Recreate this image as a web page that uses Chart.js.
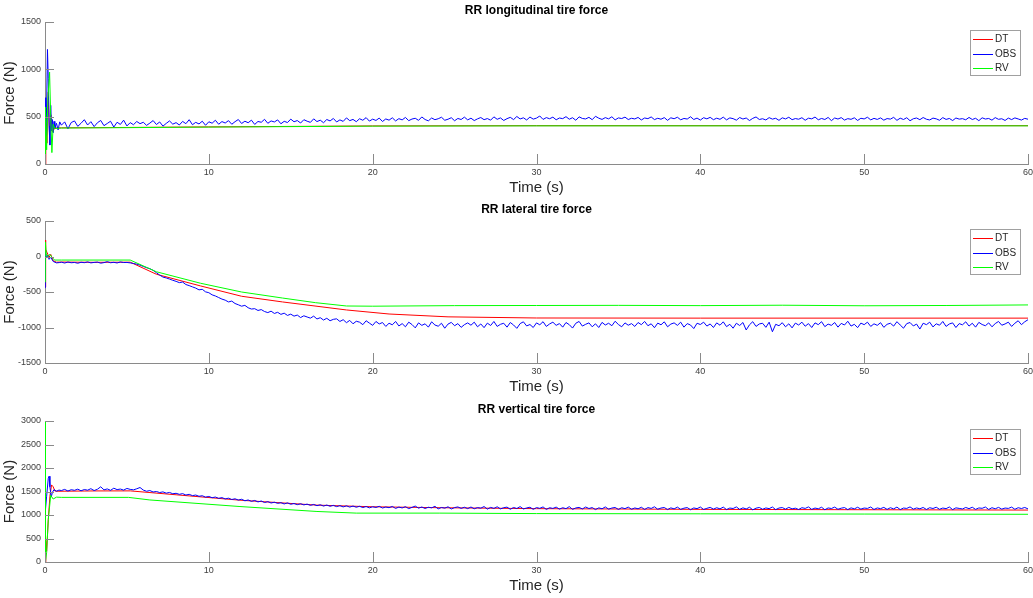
<!DOCTYPE html>
<html>
<head>
<meta charset="utf-8">
<title>RR tire forces</title>
<script src="https://cdn.jsdelivr.net/npm/chart.js@4.4.1/dist/chart.umd.min.js"></script>
<style>
  body { margin: 0; background: #fff; }
  canvas.panel { position: absolute; left: 0; }
</style>
</head>
<body>
<canvas id="long-chart" class="panel" width="1033" height="200" style="top:0px"></canvas>
<canvas id="lat-chart" class="panel" width="1033" height="200" style="top:199px"></canvas>
<canvas id="vert-chart" class="panel" width="1033" height="199" style="top:399px"></canvas>
<script>
// Series names and colours
const seriesNames = ['DT', 'OBS', 'RV'];
const seriesColors = ['rgb(255,0,0)', 'rgb(0,0,255)', 'rgb(0,255,0)'];

// Time axis (s)
const timeTicks = [0, 10, 20, 30, 40, 50, 60];

// OBS traces: a short start-up segment, then samples every 0.2 s from 1.0 s
const obsStart = 1.0;
const obsStep = 0.2;

// ---- RR longitudinal tire force ----
const longYTicks = [0, 500, 1000, 1500];
const longDtT = [0, 0.05, 0.12, 0.2, 0.28, 0.36, 0.45, 0.6, 1, 5, 10, 20, 30, 60];
const longDtV = [0, 430, 220, 760, 300, 520, 340, 380, 382, 386, 392, 402, 405, 405];
const longRvT = [0, 0.03, 0.1, 0.18, 0.28, 0.35, 0.42, 0.5, 0.6, 1, 5, 10, 20, 30, 60];
const longRvV = [0, 600, 150, 700, 970, 500, 120, 420, 375, 380, 384, 390, 400, 403, 403];
const longObsHeadT = [0, 0.05, 0.1, 0.15, 0.2, 0.25, 0.3, 0.35, 0.4, 0.45, 0.5, 0.55, 0.6, 0.7, 0.8, 0.9];
const longObsHeadV = [700, 300, 600, 1210, 900, 400, 200, 620, 350, 470, 330, 450, 380, 430, 360, 445];
const longObs = [
  410, 445, 372, 438, 455, 398, 430, 468, 412, 447, 395, 436, 460, 405, 428, 452, 390, 441, 418, 463, 402, 437, 415, 449, 426,
  441, 408, 432, 459, 417, 444, 400, 429, 455, 421, 437, 412, 450, 426, 468, 415, 440, 423, 452, 409, 446, 431, 462, 420, 448,
  433, 458, 420, 447, 470, 428, 452, 436, 463, 418, 449, 441, 472, 430, 455, 444, 466, 425, 451, 438, 474, 446, 459, 433, 468,
  452, 440, 477, 448, 463, 436, 470, 455, 481, 444, 466, 450, 487, 458, 471, 447, 478, 462, 490, 453, 474, 460, 485, 449, 476,
  463, 488, 455, 479, 466, 492, 458, 475, 483, 461, 497, 470, 456, 486, 468, 478, 494, 462, 473, 489, 457, 481, 470, 495, 466,
  484, 459, 477, 491, 468, 480, 463, 498, 472, 487, 460, 479, 493, 469, 502, 476, 488, 465, 496, 474, 485, 507, 471, 490, 478,
  495, 467, 486, 479, 500, 473, 489, 462, 498, 481, 476, 493, 468, 504, 484, 471, 490, 477, 499, 466, 487, 480, 495, 470, 483,
  476, 492, 465, 486, 479, 497, 469, 483, 473, 490, 461, 488, 478, 494, 467, 481, 475, 499, 470, 485, 464, 489, 477, 493, 468,
  484, 472, 495, 466, 487, 479, 463, 491, 475, 486, 459, 482, 497, 470, 478, 465, 490, 474, 483, 461, 488, 476, 494, 468, 480,
  473, 489, 462, 484, 477, 496, 467, 481, 470, 492, 458, 486, 475, 490, 464, 479, 472, 488, 460, 483, 476, 494, 466, 482, 471,
  487, 463, 480, 474, 493, 461, 484, 470, 489, 457, 478, 486, 468, 491, 473, 465, 485, 477, 462, 490, 471, 481, 459, 486, 474,
  479, 467, 492, 470, 483, 458, 488, 475, 481, 463, 490, 472, 478, 460, 485, 469, 487, 476, 464, 482, 473
];

// ---- RR lateral tire force ----
const latYTicks = [-1500, -1000, -500, 0, 500];
const latDtT = [0, 0.02, 0.06, 0.12, 0.25, 0.35, 0.5, 0.7, 1, 3, 5.2, 6.8, 9.5, 12, 14.5, 18.4, 21, 24.6, 30, 40, 60];
const latDtV = [-430, 230, 100, 60, -10, 30, -60, -80, -78, -82, -80, -250, -415, -560, -640, -753, -810, -850, -866, -868, -868];
const latRvT = [0, 0.02, 0.08, 0.15, 0.3, 0.45, 0.6, 1, 5.2, 6.8, 9.5, 12, 14.5, 16.5, 18.4, 20, 25, 30, 35, 40, 45, 50, 55, 60];
const latRvV = [-360, 205, 40, 0, 30, -20, -50, -50, -50, -215, -377, -500, -585, -650, -697, -700, -692, -690, -688, -692, -686, -694, -690, -682];
const latObsHeadT = [0, 0.02, 0.08, 0.15, 0.25, 0.35, 0.5, 0.7, 0.9];
const latObsHeadV = [-440, 60, -20, 20, -40, -10, -70, -90, -85];
const latObs = [
  -80, -92, -78, -88, -84, -95, -81, -87, -76, -90, -83, -79, -94, -86, -73, -88, -82, -91, -77, -85, -84, -90, -98, -108, -122,
  -140, -158, -172, -195, -228, -262, -290, -302, -318, -335, -350, -368, -360, -395, -410, -428, -445, -470, -462, -498, -510, -540, -556, -578, -600,
  -615, -640, -628, -662, -680, -700, -688, -722, -740, -735, -760, -748, -775, -790, -770, -802, -786, -815, -798, -830, -812, -840, -825, -860, -835,
  -852, -868, -840, -880, -862, -895, -870, -905, -885, -878, -915, -890, -932, -900, -948, -912, -925, -960, -905, -938, -970, -915, -950, -930, -985,
  -940, -962, -915, -978, -945, -990, -925, -958, -1005, -935, -970, -948, -995, -920, -965, -982, -940, -1010, -952, -928, -975, -945, -998, -960, -935,
  -968, -925, -990, -950, -1002, -938, -972, -915, -985, -955, -940, -995, -930, -965, -1012, -945, -920, -978, -958, -1000, -935, -962, -918, -985, -950,
  -925, -970, -945, -995, -930, -960, -1008, -940, -915, -980, -955, -935, -990, -948, -1000, -928, -965, -940, -975, -912, -958, -990, -935, -968, -945,
  -985, -930, -960, -915, -975, -948, -1003, -938, -962, -920, -990, -952, -935, -970, -925, -995, -945, -965, -1015, -940, -958, -925, -980, -950, -1000,
  -935, -968, -920, -988, -955, -1010, -940, -972, -930, -1035, -962, -918, -985, -950, -940, -998, -925, -1060, -955, -975, -932, -990, -948, -1005, -938,
  -965, -925, -982, -945, -1000, -935, -960, -918, -988, -952, -970, -930, -995, -942, -965, -912, -980, -955, -1002, -938, -960, -925, -985, -948, -970,
  -932, -998, -955, -940, -980, -918, -965, -1010, -945, -930, -978, -952, -1022, -940, -960, -925, -992, -948, -968, -915, -985, -950, -935, -1000, -945,
  -962, -920, -980, -940, -995, -928, -958, -975, -935, -990, -945, -915, -968, -950, -925, -985, -940, -905, -960, -920, -890
];

// ---- RR vertical tire force ----
const vertYTicks = [0, 500, 1000, 1500, 2000, 2500, 3000];
const vertDtT = [0, 0.05, 0.1, 0.2, 0.3, 0.4, 0.5, 0.6, 0.8, 3, 5.2, 8, 11.9, 16.6, 20, 24.1, 30, 40, 60];
const vertDtV = [0, 460, 230, 900, 1400, 1640, 1600, 1510, 1505, 1512, 1513, 1430, 1315, 1210, 1175, 1155, 1135, 1120, 1105];
const vertRvT = [0, 0.01, 0.04, 0.1, 0.2, 0.35, 0.5, 0.7, 1, 5.1, 6.4, 11.9, 16.6, 19, 24.1, 30, 40, 50, 60];
const vertRvV = [3000, 0, 0, 200, 900, 1420, 1340, 1380, 1375, 1375, 1320, 1180, 1075, 1040, 1040, 1030, 1025, 1020, 1015];
const vertObsHeadT = [0, 0.1, 0.2, 0.25, 0.3, 0.38, 0.45, 0.55, 0.7, 0.85];
const vertObsHeadV = [1000, 1400, 1780, 1825, 1600, 1380, 1480, 1540, 1505, 1530];
const vertObs = [
  1520, 1545, 1510, 1538, 1525, 1550, 1515, 1542, 1528, 1560, 1520, 1548, 1600, 1535, 1555, 1525, 1570, 1540, 1552, 1530, 1565, 1545, 1535, 1558, 1585,
  1530, 1505, 1520, 1490, 1500, 1478, 1492, 1465, 1480, 1452, 1462, 1440, 1455, 1425, 1440, 1412, 1425, 1398, 1410, 1380, 1395, 1368, 1382, 1355, 1370,
  1342, 1358, 1330, 1345, 1318, 1335, 1302, 1320, 1290, 1310, 1278, 1298, 1265, 1285, 1255, 1272, 1248, 1262, 1235, 1258, 1228, 1245, 1220, 1240, 1215,
  1232, 1205, 1225, 1198, 1218, 1190, 1212, 1185, 1205, 1178, 1200, 1172, 1195, 1168, 1190, 1165, 1185, 1158, 1180, 1152, 1175, 1160, 1185, 1148, 1170,
  1155, 1182, 1140, 1168, 1150, 1178, 1135, 1162, 1190, 1145, 1170, 1138, 1165, 1152, 1185, 1130, 1160, 1145, 1175, 1128, 1158, 1172, 1140, 1165, 1135,
  1170, 1132, 1158, 1145, 1180, 1125, 1162, 1140, 1175, 1130, 1155, 1168, 1122, 1160, 1138, 1178, 1128, 1150, 1165, 1120, 1158, 1142, 1172, 1118, 1155,
  1140, 1168, 1125, 1155, 1135, 1178, 1120, 1150, 1162, 1128, 1170, 1138, 1158, 1115, 1152, 1132, 1172, 1125, 1148, 1160, 1118, 1155, 1135, 1168, 1122,
  1150, 1132, 1165, 1118, 1158, 1140, 1175, 1122, 1148, 1160, 1115, 1152, 1130, 1168, 1120, 1145, 1158, 1112, 1150, 1135, 1170, 1118, 1142, 1162, 1125,
  1155, 1130, 1168, 1115, 1148, 1138, 1172, 1120, 1152, 1128, 1165, 1110, 1145, 1160, 1122, 1150, 1135, 1170, 1115, 1148, 1158, 1125, 1162, 1130, 1145,
  1118, 1155, 1140, 1172, 1120, 1148, 1132, 1165, 1112, 1150, 1138, 1168, 1122, 1145, 1158, 1115, 1152, 1130, 1165, 1125, 1148, 1140, 1170, 1118, 1150,
  1135, 1162, 1120, 1155, 1130, 1168, 1115, 1148, 1140, 1172, 1125, 1150, 1132, 1160, 1118, 1155, 1138, 1165, 1122, 1148, 1135, 1170, 1115, 1152, 1140,
  1128, 1160, 1135, 1165, 1120, 1150, 1142, 1170, 1118, 1155, 1132, 1162, 1125, 1148, 1140, 1168, 1122, 1155, 1138, 1160, 1130
];

// Shared look
const fontFamily = '"Liberation Sans", Arial, Helvetica, sans-serif';
const axisColor = '#8a8a8a';
const textColor = '#262626';
const tickColor = '#404040';

function toPoints(times, values) {
  return times.map((t, i) => ({ x: t, y: values[i] }));
}

function obsPoints(headT, headV, body) {
  const pts = toPoints(headT, headV);
  body.forEach((v, i) => pts.push({ x: +(obsStart + i * obsStep).toFixed(2), y: v }));
  return pts;
}

// Inward tick marks along the left and bottom axes
const innerTicks = {
  id: 'innerTicks',
  afterDatasetsDraw(chart) {
    const { ctx, chartArea, scales } = chart;
    ctx.save();
    ctx.strokeStyle = axisColor;
    ctx.lineWidth = 1;
    ctx.beginPath();
    scales.x.ticks.forEach(t => {
      const px = Math.round(scales.x.getPixelForValue(t.value)) + 0.5;
      ctx.moveTo(px, chartArea.bottom);
      ctx.lineTo(px, chartArea.bottom - 10);
    });
    scales.y.ticks.forEach(t => {
      const py = Math.round(scales.y.getPixelForValue(t.value)) + 0.5;
      ctx.moveTo(chartArea.left, py);
      ctx.lineTo(chartArea.left + 9, py);
    });
    ctx.stroke();
    ctx.restore();
  }
};

// Panel title centred over the plot area
const panelTitle = {
  id: 'panelTitle',
  afterDraw(chart, args, opts) {
    const { ctx, chartArea } = chart;
    ctx.save();
    ctx.font = 'bold 12px ' + fontFamily;
    ctx.fillStyle = '#000';
    ctx.textAlign = 'center';
    ctx.textBaseline = 'middle';
    ctx.fillText(opts.text, (chartArea.left + chartArea.right) / 2, chartArea.top - 11);
    ctx.restore();
  }
};

// Boxed legend in the top-right corner of the plot area
const boxLegend = {
  id: 'boxLegend',
  afterDraw(chart) {
    const { ctx, chartArea } = chart;
    const w = 50, h = 45;
    const left = chartArea.right - 8 - w;
    const top = chartArea.top + 8;
    ctx.save();
    ctx.fillStyle = '#fff';
    ctx.fillRect(left, top, w, h);
    ctx.strokeStyle = '#a0a0a0';
    ctx.lineWidth = 1;
    ctx.strokeRect(left + 0.5, top + 0.5, w, h);
    ctx.font = '10px ' + fontFamily;
    ctx.textBaseline = 'middle';
    chart.data.datasets.forEach((ds, i) => {
      const y = Math.round(top + 9 + i * 14.5) + 0.5;
      ctx.strokeStyle = ds.borderColor;
      ctx.beginPath();
      ctx.moveTo(left + 3, y);
      ctx.lineTo(left + 23, y);
      ctx.stroke();
      ctx.fillStyle = textColor;
      ctx.fillText(ds.label, left + 25, y);
    });
    ctx.restore();
  }
};

function makePanel(canvasId, title, yTicks, dt, obs, rv) {
  const lines = [dt, obs, rv];
  return new Chart(document.getElementById(canvasId), {
    type: 'line',
    data: {
      datasets: lines.map((pts, i) => ({
        label: seriesNames[i],
        data: pts,
        borderColor: seriesColors[i],
        borderWidth: 1,
        pointRadius: 0,
        tension: 0,
        fill: false,
        order: 3 - i
      }))
    },
    options: {
      responsive: false,
      animation: false,
      devicePixelRatio: 1,
      layout: { padding: { top: 22, right: 5, left: 0, bottom: 0 } },
      plugins: {
        legend: { display: false },
        tooltip: { enabled: false },
        panelTitle: { text: title }
      },
      scales: {
        x: {
          type: 'linear',
          min: timeTicks[0],
          max: timeTicks[timeTicks.length - 1],
          afterBuildTicks: s => { s.ticks = timeTicks.map(v => ({ value: v })); },
          // fixed band below the plot; the end labels may hang into the margins
          afterFit: s => { s.height = 36; s.paddingLeft = 0; s.paddingRight = 0; },
          ticks: {
            padding: 3, color: tickColor, maxRotation: 0,
            font: { size: 9, family: fontFamily },
            callback: v => String(v)
          },
          grid: { drawOnChartArea: false, drawTicks: false },
          border: { color: axisColor, width: 1 },
          title: { display: true, text: 'Time (s)', color: textColor, font: { size: 15, family: fontFamily }, padding: { top: 0, bottom: 3 } }
        },
        y: {
          min: yTicks[0],
          max: yTicks[yTicks.length - 1],
          afterBuildTicks: s => { s.ticks = yTicks.map(v => ({ value: v })); },
          afterFit: s => { s.width = 45; },
          ticks: {
            padding: 4, color: tickColor,
            font: { size: 9, family: fontFamily },
            callback: v => String(v)
          },
          grid: { drawOnChartArea: false, drawTicks: false },
          border: { color: axisColor, width: 1 },
          title: { display: true, text: 'Force (N)', color: textColor, font: { size: 15, family: fontFamily }, padding: { top: 1, bottom: 0 } }
        }
      }
    },
    plugins: [innerTicks, panelTitle, boxLegend]
  });
}

makePanel('long-chart', 'RR longitudinal tire force', longYTicks,
  toPoints(longDtT, longDtV), obsPoints(longObsHeadT, longObsHeadV, longObs), toPoints(longRvT, longRvV));

makePanel('lat-chart', 'RR lateral tire force', latYTicks,
  toPoints(latDtT, latDtV), obsPoints(latObsHeadT, latObsHeadV, latObs), toPoints(latRvT, latRvV));

makePanel('vert-chart', 'RR vertical tire force', vertYTicks,
  toPoints(vertDtT, vertDtV), obsPoints(vertObsHeadT, vertObsHeadV, vertObs), toPoints(vertRvT, vertRvV));
</script>
</body>
</html>
